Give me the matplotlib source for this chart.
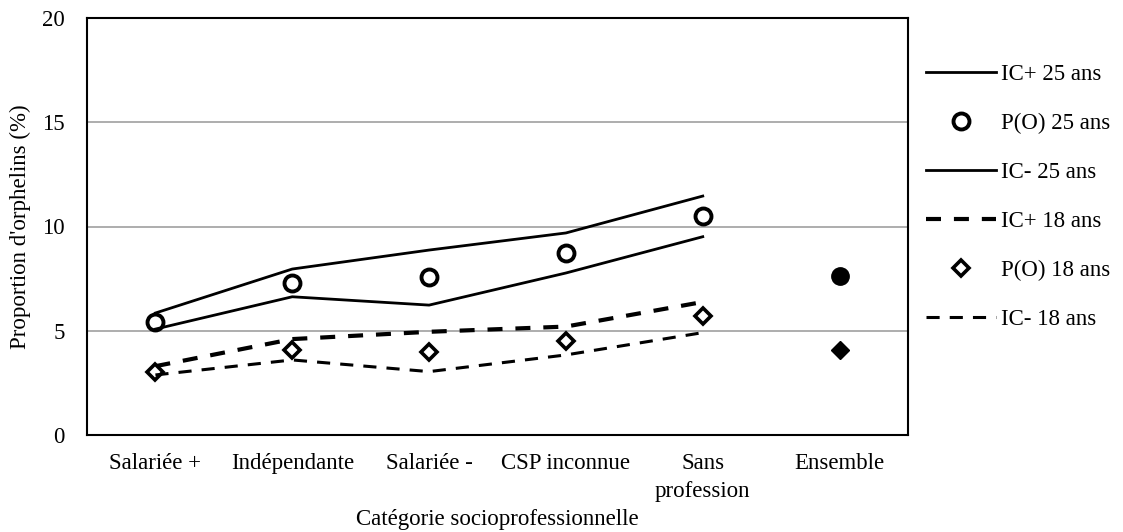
import matplotlib
matplotlib.use("Agg")
import matplotlib.pyplot as plt
import numpy as np

categories = ["Salariée +", "Indépendante", "Salariée -", "CSP inconnue", "Sans\nprofession", "Ensemble"]
ic_plus_25 = [5.85, 7.96, 8.87, 9.69, 11.46, np.nan]
p_25 = [5.43, 7.3, 7.58, 8.73, 10.5, np.nan]
ic_minus_25 = [5.08, 6.63, 6.23, 7.77, 9.51, np.nan]
ic_plus_18 = [3.3, 4.6, 4.95, 5.2, 6.38, np.nan]
p_18 = [3.04, 4.08, 3.98, 4.51, 5.7, np.nan]
ic_minus_18 = [2.88, 3.6, 3.04, 3.84, 4.91, np.nan]
ensemble_25 = 7.63
ensemble_18 = 4.08
yticks = [0, 5, 10, 15, 20]

plt.rcParams['font.family'] = ['Liberation Serif', 'DejaVu Serif']
plt.rcParams['font.size'] = 16.5

fig = plt.figure(figsize=(11.23, 5.32), dpi=100)
ax = fig.add_axes([87/1123, 1-435/532, (908-87)/1123, (435-18)/532])

x = np.arange(len(categories))
ax.plot(x, ic_plus_25, color='black', lw=2, label='IC+ 25 ans')
ax.plot(x, p_25, linestyle='none', marker='o', markersize=11.5, markerfacecolor='white',
        markeredgecolor='black', markeredgewidth=2.8, label='P(O) 25 ans')
ax.plot(x, ic_minus_25, color='black', lw=2, label='IC- 25 ans')
ax.plot(x, ic_plus_18, color='black', lw=3, dashes=(3.6, 3.1), label='IC+ 18 ans')
ax.plot(x, p_18, linestyle='none', marker='D', markersize=8, markerfacecolor='white',
        markeredgecolor='black', markeredgewidth=2.6, label='P(O) 18 ans')
ax.plot(x, ic_minus_18, color='black', lw=2.2, dashes=(4.3, 3.3), label='IC- 18 ans')
ax.plot([x[-1]], [ensemble_25], linestyle='none', marker='o', markersize=12.5, color='black')
ax.plot([x[-1]], [ensemble_18], linestyle='none', marker='D', markersize=9, color='black')

ax.set_xlim(-0.5, len(categories) - 0.5)
ax.set_ylim(0, 20)
ax.set_yticks(yticks)
ax.set_xticks(x)
ax.set_xticklabels(categories, linespacing=1.45)
ax.tick_params(axis='x', length=0, pad=13)
ax.tick_params(axis='y', length=0, pad=16)
ax.yaxis.grid(True, color='#a0a0a0', lw=1.2)
ax.set_axisbelow(True)
for s in ax.spines.values():
    s.set_linewidth(1.5)
    s.set_color('black')

ax.set_xlabel("Catégorie socioprofessionnelle", labelpad=5)
ax.set_ylabel("Proportion d'orphelins (%)", labelpad=8)

leg = ax.legend(loc='upper left', bbox_to_anchor=(926/1123, 1-64/532), bbox_transform=fig.transFigure,
                frameon=False, handlelength=3.05, handletextpad=0.22, labelspacing=1.22,
                borderpad=0, borderaxespad=0)

fig.savefig("out.png", dpi=100)
